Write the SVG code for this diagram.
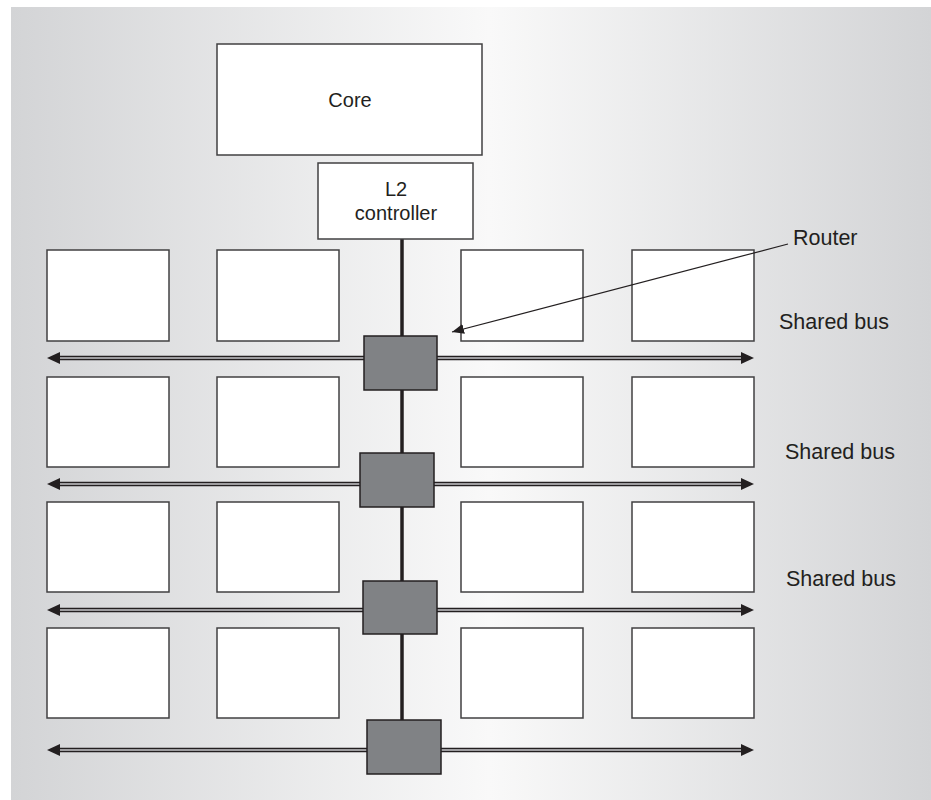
<svg xmlns="http://www.w3.org/2000/svg" width="931" height="800" viewBox="0 0 931 800">
<defs>
<linearGradient id="bg" x1="11" y1="0" x2="931" y2="0" gradientUnits="userSpaceOnUse">
<stop offset="0" stop-color="#d3d4d6"/>
<stop offset="0.52" stop-color="#f9f9f9"/>
<stop offset="1" stop-color="#d3d4d6"/>
</linearGradient>
<marker id="ah" markerUnits="userSpaceOnUse" markerWidth="16" markerHeight="14" refX="0" refY="7" orient="auto-start-reverse" viewBox="0 0 16 14">
<path d="M0,1 L13,7 L0,13 z" fill="#231f20"/>
</marker>
<marker id="ah2" markerUnits="userSpaceOnUse" markerWidth="14" markerHeight="10" refX="12" refY="5" orient="auto" viewBox="0 0 14 10">
<path d="M0,0 L12,5 L0,10 z" fill="#231f20"/>
</marker>
</defs>
<style>
.box{fill:#fff;stroke:#414042;stroke-width:1.5}
.router{fill:#808285;stroke:#231f20;stroke-width:1.5}
.busout{stroke:#231f20;stroke-width:4.5;fill:none}
.busin{stroke:#c8c9cb;stroke-width:1.6;fill:none}
.lbl{font-family:"Liberation Sans",Arial,sans-serif;font-size:20px;fill:#231f20}
.side{font-size:21.5px}
</style>
<rect x="0" y="0" width="931" height="800" fill="#fff"/>
<rect x="11" y="7" width="920" height="793" fill="url(#bg)"/>

<g id="connectors">
<line x1="402" y1="239" x2="402" y2="722" stroke="#231f20" stroke-width="3.5"/>
<path class="busout" d="M60,358 H741" marker-start="url(#ah)" marker-end="url(#ah)"/>
<path class="busin" d="M60,358 H741"/>
<path class="busout" d="M60,484 H741" marker-start="url(#ah)" marker-end="url(#ah)"/>
<path class="busin" d="M60,484 H741"/>
<path class="busout" d="M60,610 H741" marker-start="url(#ah)" marker-end="url(#ah)"/>
<path class="busin" d="M60,610 H741"/>
<path class="busout" d="M60,750 H741" marker-start="url(#ah)" marker-end="url(#ah)"/>
<path class="busin" d="M60,750 H741"/>
</g>

<g id="core"><rect class="box" x="217" y="44" width="265" height="111"/><text class="lbl" x="350" y="107" text-anchor="middle">Core</text></g>
<g id="l2"><rect class="box" x="318" y="163" width="155" height="76"/><text class="lbl" x="396" y="196" text-anchor="middle">L2</text><text class="lbl" x="396" y="220" text-anchor="middle">controller</text></g>

<g id="bank-r1c1"><rect class="box" x="47" y="250" width="122" height="91"/></g>
<g id="bank-r1c2"><rect class="box" x="217" y="250" width="122" height="91"/></g>
<g id="bank-r1c3"><rect class="box" x="461" y="250" width="122" height="91"/></g>
<g id="bank-r1c4"><rect class="box" x="632" y="250" width="122" height="91"/></g>
<g id="bank-r2c1"><rect class="box" x="47" y="377" width="122" height="90"/></g>
<g id="bank-r2c2"><rect class="box" x="217" y="377" width="122" height="90"/></g>
<g id="bank-r2c3"><rect class="box" x="461" y="377" width="122" height="90"/></g>
<g id="bank-r2c4"><rect class="box" x="632" y="377" width="122" height="90"/></g>
<g id="bank-r3c1"><rect class="box" x="47" y="502" width="122" height="90"/></g>
<g id="bank-r3c2"><rect class="box" x="217" y="502" width="122" height="90"/></g>
<g id="bank-r3c3"><rect class="box" x="461" y="502" width="122" height="90"/></g>
<g id="bank-r3c4"><rect class="box" x="632" y="502" width="122" height="90"/></g>
<g id="bank-r4c1"><rect class="box" x="47" y="628" width="122" height="90"/></g>
<g id="bank-r4c2"><rect class="box" x="217" y="628" width="122" height="90"/></g>
<g id="bank-r4c3"><rect class="box" x="461" y="628" width="122" height="90"/></g>
<g id="bank-r4c4"><rect class="box" x="632" y="628" width="122" height="90"/></g>

<g id="router1"><rect class="router" x="364" y="336" width="73" height="54"/></g>
<g id="router2"><rect class="router" x="360" y="453" width="74" height="54"/></g>
<g id="router3"><rect class="router" x="363" y="581" width="74" height="53"/></g>
<g id="router4"><rect class="router" x="367" y="720" width="74" height="54"/></g>

<g id="pointer">
<line x1="788" y1="244" x2="452" y2="332" stroke="#231f20" stroke-width="1.2" marker-end="url(#ah2)"/>
</g>

<g id="labels">
<text class="lbl side" x="793" y="245">Router</text>
<text class="lbl side" x="779" y="329">Shared bus</text>
<text class="lbl side" x="785" y="459">Shared bus</text>
<text class="lbl side" x="786" y="586">Shared bus</text>
</g>
</svg>
